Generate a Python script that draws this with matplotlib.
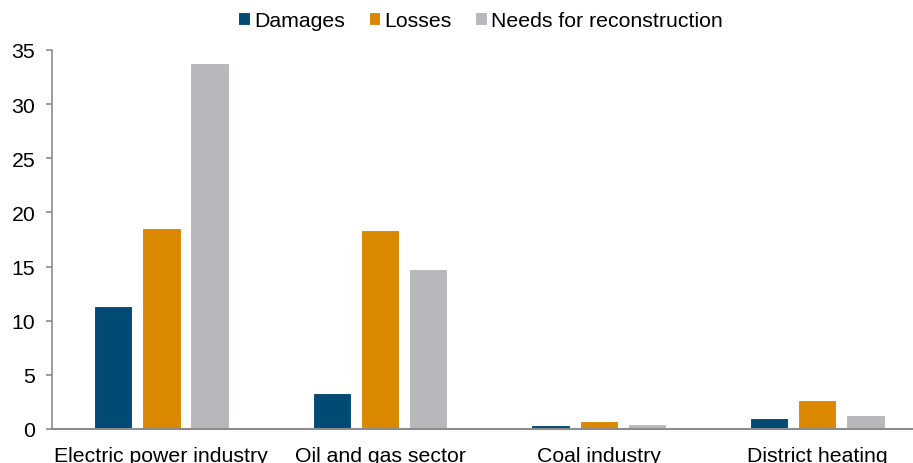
import numpy as np
import matplotlib
matplotlib.use("Agg")
import matplotlib.pyplot as plt

plt.rcParams['font.family'] = ['Liberation Sans', 'DejaVu Sans']

## data
sectors = ["Electric power industry", "Oil and gas sector", "Coal industry", "District heating"]
damages = [11.4, 3.3, 0.4, 1.0]
losses = [18.6, 18.4, 0.7, 2.7]
needs = [33.8, 14.8, 0.5, 1.3]
series_names = ["Damages", "Losses", "Needs for reconstruction"]

colors = ("#004a73", "#d98800", "#b7b8bc")
axis_grey = "#8c8c8c"

fig = plt.figure(figsize=(9.13, 4.64), dpi=100)
ax = fig.add_axes([0.057, 0.0733, 0.958, 0.817])

x = np.arange(len(sectors))
w = 0.175
step = 0.22
for i, vals in enumerate([damages, losses, needs]):
    ax.bar(x + (i - 1) * step, vals, width=w, color=colors[i],
           edgecolor="white", linewidth=0.8, label=series_names[i])

ax.set_xlim(-0.5, 3.5)
ax.set_ylim(0, 35)
ax.set_yticks(range(0, 36, 5))
ax.set_xticks(x)
ax.set_xticklabels(sectors)

for s in ["top", "right"]:
    ax.spines[s].set_visible(False)
ax.spines["left"].set_color(axis_grey)
ax.spines["bottom"].set_color(axis_grey)
ax.spines["left"].set_linewidth(1.2)
ax.spines["bottom"].set_linewidth(1.5)

ax.tick_params(axis="y", length=4, width=1.2, color=axis_grey, pad=8, labelsize=15.3)
ax.tick_params(axis="x", length=0, pad=12, labelsize=15.3)

ax.legend(loc="center", bbox_to_anchor=(0.49, 1.077), ncol=3, frameon=False,
          fontsize=15.3, handlelength=0.55, handleheight=0.55, handletextpad=0.2,
          columnspacing=1.1, borderaxespad=0)

fig.savefig("out.png", dpi=100)
